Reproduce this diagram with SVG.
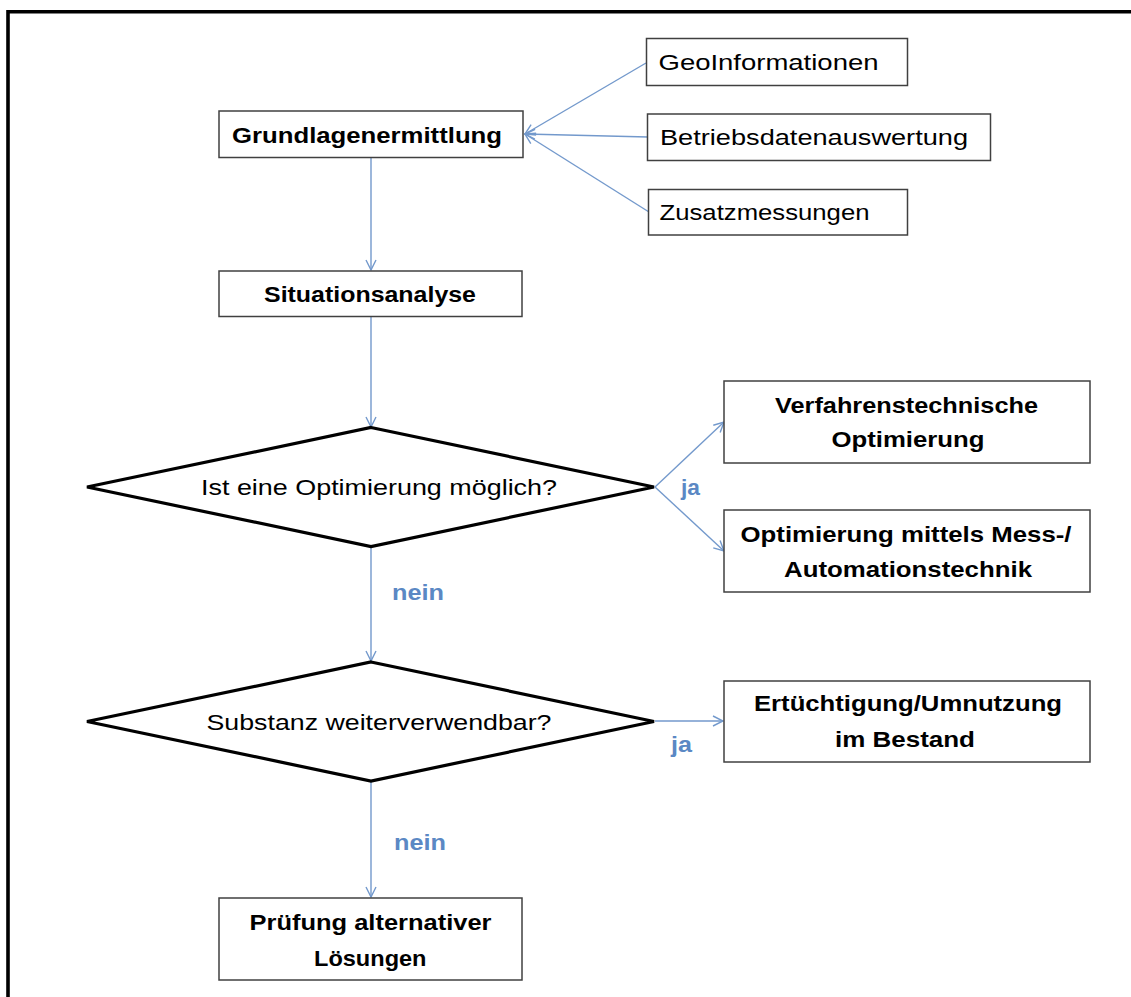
<svg xmlns="http://www.w3.org/2000/svg" width="1131" height="997" viewBox="0 0 1131 997">
<style>
.box{fill:#fff;stroke:#404040;stroke-width:1.5}
.dia{fill:#fff;stroke:#000;stroke-width:3.2;stroke-linejoin:miter}
.t{font-family:"Liberation Sans",Arial,sans-serif;font-size:22px;fill:#000}
.b{font-weight:bold}
.c{fill:none;stroke:#7399cc;stroke-width:1.4;marker-end:url(#ah)}
.lbl{font-family:"Liberation Sans",Arial,sans-serif;font-size:22px;font-weight:bold;fill:#5b88c4}
</style>
<defs>
<marker id="ah" viewBox="0 0 12 12" refX="11" refY="6" markerWidth="12" markerHeight="12" markerUnits="userSpaceOnUse" orient="auto">
<path d="M1,1 L11,6 L1,11" fill="none" stroke="#7399cc" stroke-width="1.4"/>
</marker>
</defs>
<rect width="1131" height="997" fill="#fff"/>
<polyline points="8,997 8,11.7 1131,11.7" fill="none" stroke="#000" stroke-width="3.6"/>

<g id="connectors">
<line class="c" x1="646" y1="63" x2="525" y2="134"/>
<line class="c" x1="648" y1="137" x2="525" y2="134"/>
<line class="c" x1="649" y1="212" x2="525" y2="134"/>
<line class="c" x1="371" y1="158" x2="371" y2="270"/>
<line class="c" x1="371" y1="317" x2="371" y2="427"/>
<line class="c" x1="655" y1="487" x2="724" y2="422"/>
<line class="c" x1="655" y1="487" x2="724" y2="551"/>
<line class="c" x1="371" y1="547" x2="371" y2="661"/>
<line class="c" x1="655" y1="721" x2="723" y2="721"/>
<line class="c" x1="371" y1="782" x2="371" y2="897"/>
<text class="lbl" x="681" y="495" textLength="19" lengthAdjust="spacingAndGlyphs">ja</text>
<text class="lbl" x="392" y="600" textLength="52" lengthAdjust="spacingAndGlyphs">nein</text>
<text class="lbl" x="671" y="752" textLength="21" lengthAdjust="spacingAndGlyphs">ja</text>
<text class="lbl" x="394" y="850" textLength="52" lengthAdjust="spacingAndGlyphs">nein</text>
</g>

<g id="geo"><rect class="box" x="646.5" y="38.5" width="261" height="47"/><text class="t" x="658.5" y="70" textLength="220" lengthAdjust="spacingAndGlyphs">GeoInformationen</text></g>
<g id="betrieb"><rect class="box" x="647.5" y="114" width="343" height="46.5"/><text class="t" x="660" y="145" textLength="308" lengthAdjust="spacingAndGlyphs">Betriebsdatenauswertung</text></g>
<g id="zusatz"><rect class="box" x="648.5" y="189.5" width="259" height="45.5"/><text class="t" x="659.5" y="220" textLength="210" lengthAdjust="spacingAndGlyphs">Zusatzmessungen</text></g>
<g id="grundlagen"><rect class="box" x="219" y="111" width="304" height="46.5"/><text class="t b" x="232" y="143" textLength="270" lengthAdjust="spacingAndGlyphs">Grundlagenermittlung</text></g>
<g id="situation"><rect class="box" x="219" y="271" width="303" height="45.5"/><text class="t b" x="264" y="301.5" textLength="212" lengthAdjust="spacingAndGlyphs">Situationsanalyse</text></g>
<g id="dia1"><polygon class="dia" points="371,427.5 654,487 371,546.5 87,487"/><text class="t" x="201" y="495" textLength="356" lengthAdjust="spacingAndGlyphs">Ist eine Optimierung möglich?</text></g>
<g id="verfahren"><rect class="box" x="724" y="381" width="366" height="82"/><text class="t b" x="775" y="413" textLength="263" lengthAdjust="spacingAndGlyphs">Verfahrenstechnische</text><text class="t b" x="831.5" y="447" textLength="153" lengthAdjust="spacingAndGlyphs">Optimierung</text></g>
<g id="mess"><rect class="box" x="724" y="510" width="366" height="82"/><text class="t b" x="740.5" y="541.5" textLength="331" lengthAdjust="spacingAndGlyphs">Optimierung mittels Mess-/</text><text class="t b" x="784" y="576.5" textLength="248" lengthAdjust="spacingAndGlyphs">Automationstechnik</text></g>
<g id="dia2"><polygon class="dia" points="371,662 654,721.5 371,781 87,721.5"/><text class="t" x="206.5" y="730" textLength="345" lengthAdjust="spacingAndGlyphs">Substanz weiterverwendbar?</text></g>
<g id="ertuechtigung"><rect class="box" x="724" y="681" width="366" height="81"/><text class="t b" x="754" y="711" textLength="308" lengthAdjust="spacingAndGlyphs">Ertüchtigung/Umnutzung</text><text class="t b" x="835" y="747" textLength="140" lengthAdjust="spacingAndGlyphs">im Bestand</text></g>
<g id="pruefung"><rect class="box" x="219" y="898" width="303" height="82"/><text class="t b" x="249.5" y="930" textLength="242" lengthAdjust="spacingAndGlyphs">Prüfung alternativer</text><text class="t b" x="314" y="966" textLength="112.5" lengthAdjust="spacingAndGlyphs">Lösungen</text></g>
</svg>
